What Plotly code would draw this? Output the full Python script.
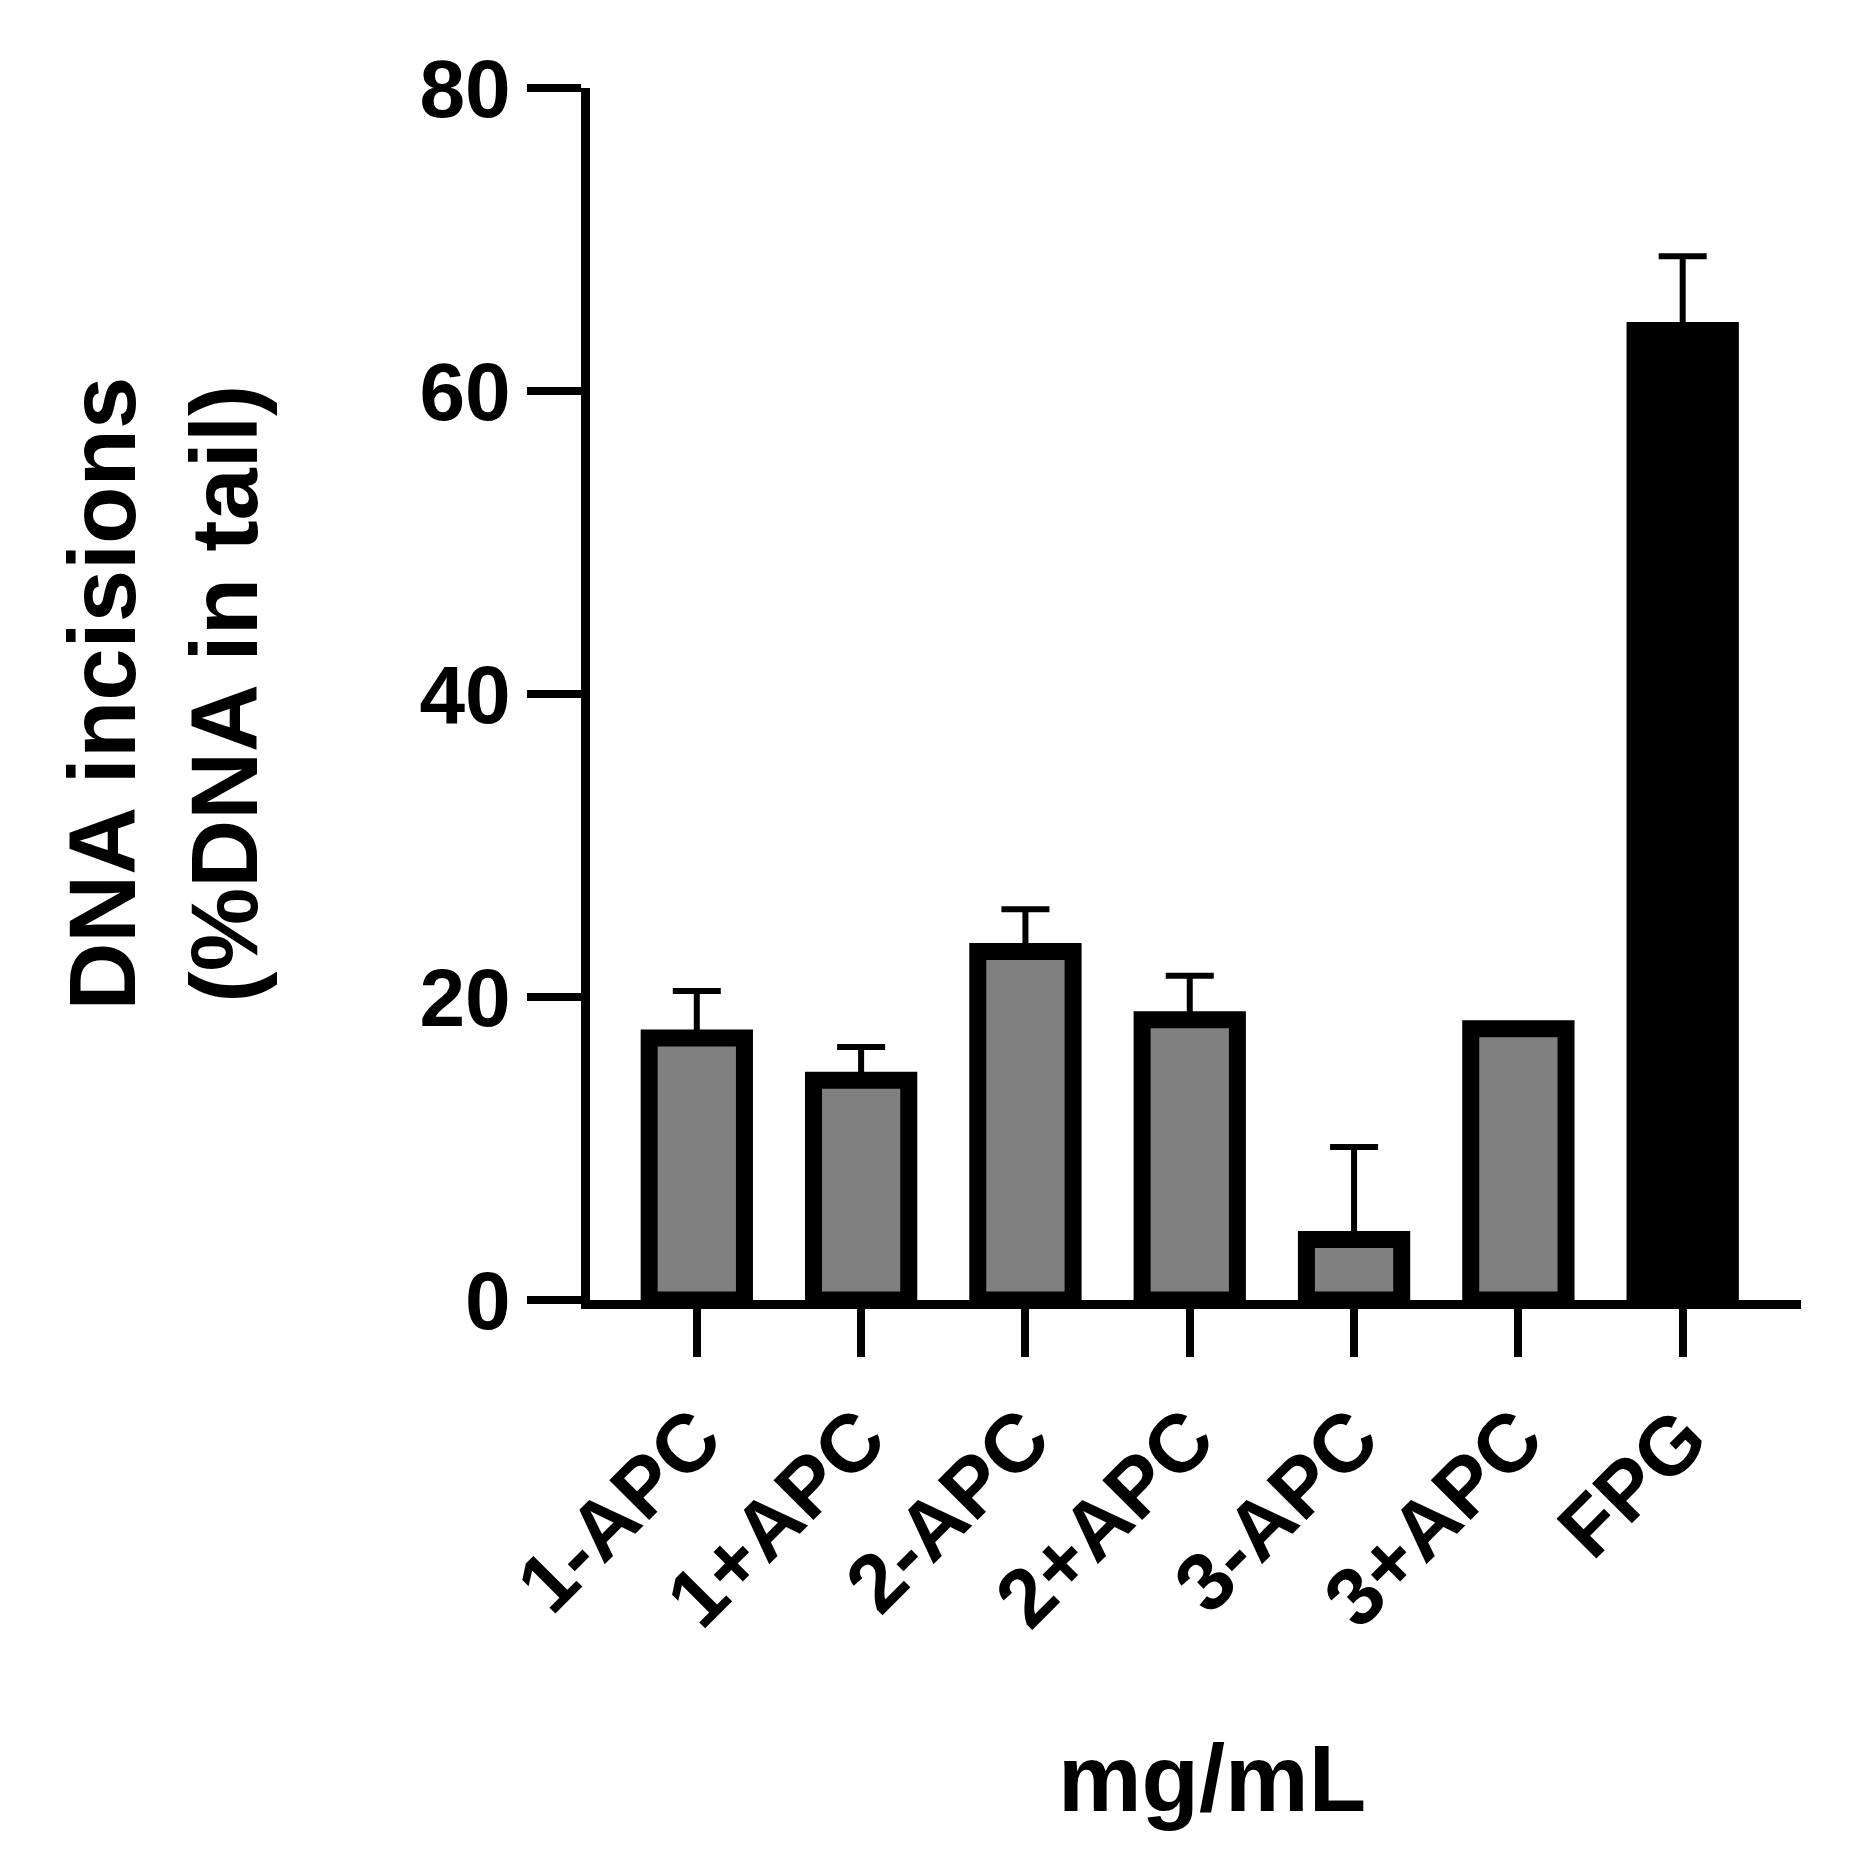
import plotly.graph_objects as go

categories = ["1-APC", "1+APC", "2-APC", "2+APC", "3-APC", "3+APC", "FPG"]
means = [17.3, 14.5, 23.0, 18.5, 4.0, 17.9, 64.0]
sd = [3.1, 2.2, 2.8, 2.9, 6.1, 0.2, 4.9]
fills = ["#808080"] * 6 + ["#000000"]

fig = go.Figure(go.Bar(
    x=list(range(len(categories))), y=means, width=0.58,
    marker=dict(color=fills, line=dict(color="black", width=17)),
    error_y=dict(type="data", array=sd, arrayminus=[0] * len(sd), color="black", thickness=6, width=24),
))
font = dict(family="Liberation Sans, Arial", size=82, color="black")
tfont = dict(family="Liberation Sans, Arial", size=94, color="black")
fig.update_layout(
    width=1868, height=1862, plot_bgcolor="white", paper_bgcolor="white",
    margin=dict(l=582, r=75, t=80, b=570), showlegend=False, font=font,
    xaxis=dict(range=[-0.65, 6.72], tickmode="array", tickvals=list(range(len(categories))),
               ticktext=[f"<b>{c}</b>" for c in categories], tickangle=-45,
               ticks="outside", ticklen=48, tickwidth=8, tickcolor="black",
               showline=True, linewidth=9, linecolor="black", showgrid=False, zeroline=False),
    yaxis=dict(range=[0, 80], tickvals=[0, 20, 40, 60, 80], ticktext=["<b>0</b>", "<b>20</b>", "<b>40</b>", "<b>60</b>", "<b>80</b>"],
               ticks="outside", ticklen=54, tickwidth=8, tickcolor="black",
               showline=True, linewidth=9, linecolor="black", showgrid=False, zeroline=False),
    annotations=[
        dict(text="<b>DNA incisions<br>(%DNA in tail)</b>", x=-0.353, y=0.5, xref="paper", yref="paper",
             textangle=-90, showarrow=False, font=tfont, xanchor="center", yanchor="middle"),
        dict(text="<b>mg/mL</b>", x=0.514, y=-0.395, xref="paper", yref="paper", showarrow=False,
             font=tfont, xanchor="center", yanchor="middle"),
    ],
)
fig.write_html("out.html")
